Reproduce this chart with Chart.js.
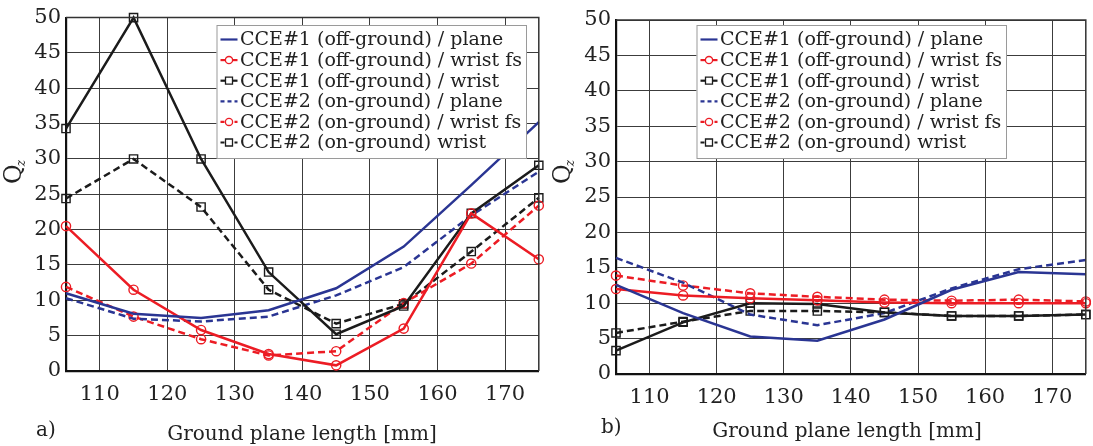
<!DOCTYPE html>
<html lang="en">

<head>
    <meta charset="UTF-8">
    <title>Qz vs ground plane length</title>
    <style>
        body { margin: 0; background: #fff; }
        .panel { position: absolute; top: 0; }
    </style>
</head>

<body>
    <div class="panel" style="left:0px;"><canvas id="chartA" width="546" height="446"></canvas></div>
    <div class="panel" style="left:546px;"><canvas id="chartB" width="547" height="446"></canvas></div>

    <script src="https://cdn.jsdelivr.net/npm/chart.js@4.4.1/dist/chart.umd.min.js"></script>
    <script>
        // ground plane length [mm]
        const lengths = [105, 115, 125, 135, 145, 155, 165, 175];
        const xTicks = [110, 120, 130, 140, 150, 160, 170];

        const seriesNames = [
            'CCE#1 (off-ground) / plane',
            'CCE#1 (off-ground) / wrist fs',
            'CCE#1 (off-ground) / wrist',
            'CCE#2 (on-ground) / plane',
            'CCE#2 (on-ground) / wrist fs',
            'CCE#2 (on-ground) wrist'
        ];

        // panel a)
        const a_cce1Plane = [11.0, 8.1, 7.5, 8.6, 11.7, 17.6, 26.3, 35.2];
        const a_cce1WristFs = [20.5, 11.5, 5.8, 2.4, 0.8, 6.0, 22.3, 15.8];
        const a_cce1Wrist = [34.3, 50.0, 30.0, 14.0, 5.2, 9.2, 22.3, 29.1];
        const a_cce2Plane = [10.3, 7.4, 7.0, 7.7, 10.7, 14.7, 22.0, 28.2];
        const a_cce2WristFs = [11.9, 7.7, 4.5, 2.2, 2.8, 9.6, 15.2, 23.4];
        const a_cce2Wrist = [24.4, 30.0, 23.2, 11.5, 6.7, 9.5, 16.9, 24.5];

        // panel b)
        const b_cce1Plane = [12.6, 8.6, 5.3, 4.7, 7.7, 11.9, 14.4, 14.1];
        const b_cce1WristFs = [12.0, 11.1, 10.7, 10.4, 10.1, 10.0, 10.0, 10.0];
        const b_cce1Wrist = [3.3, 7.3, 10.0, 9.9, 8.7, 8.2, 8.2, 8.4];
        const b_cce2Plane = [16.4, 12.9, 8.4, 6.9, 8.6, 12.1, 14.8, 16.1];
        const b_cce2WristFs = [13.9, 12.5, 11.4, 10.9, 10.5, 10.35, 10.5, 10.25];
        const b_cce2Wrist = [5.8, 7.4, 8.9, 8.9, 8.7, 8.2, 8.2, 8.4];

        const BLUE = '#2a3593';
        const RED = '#ec1c24';
        const BLACK = '#1b1b1b';
        const SERIF = '"DejaVu Serif", serif';

        const styles = [
            { color: BLUE, dash: [], marker: false },
            { color: RED, dash: [], marker: 'circle' },
            { color: BLACK, dash: [], marker: 'rect' },
            { color: BLUE, dash: [7, 4], marker: false },
            { color: RED, dash: [7, 4], marker: 'circle' },
            { color: BLACK, dash: [7, 4], marker: 'rect' }
        ];

        function makeDatasets(lists) {
            return lists.map((vals, i) => {
                const st = styles[i];
                return {
                    label: seriesNames[i],
                    data: vals.map((v, k) => ({ x: lengths[k], y: v })),
                    borderColor: st.color,
                    borderWidth: 2.5,
                    borderDash: st.dash,
                    backgroundColor: 'rgba(0,0,0,0)',
                    pointStyle: st.marker || 'circle',
                    pointRadius: st.marker ? (st.marker === 'rect' ? 5.8 : 4.6) : 0,
                    pointBorderColor: st.color,
                    pointBorderWidth: 1.4,
                    pointBackgroundColor: 'rgba(0,0,0,0)',
                    tension: 0,
                    clip: false
                };
            });
        }

        // titles, frame and boxed legend drawn inside the plot
        const decor = {
            id: 'decor',
            afterDraw(chart, args, opts) {
                const ctx = chart.ctx;
                const a = chart.chartArea;
                ctx.save();
                // top / right frame
                ctx.strokeStyle = '#333';
                ctx.lineWidth = 1.5;
                ctx.beginPath();
                ctx.moveTo(a.left, a.top);
                ctx.lineTo(a.right, a.top);
                ctx.lineTo(a.right, a.bottom);
                ctx.stroke();

                ctx.fillStyle = '#222';
                // x title + panel label
                ctx.font = '20px ' + SERIF;
                ctx.textBaseline = 'alphabetic';
                ctx.textAlign = 'center';
                ctx.fillText('Ground plane length [mm]', opts.titleX, opts.titleY);
                ctx.textAlign = 'left';
                ctx.fillText(opts.panel, opts.panelX, opts.panelY);

                // y title Q with subscript z
                ctx.translate(opts.qX, opts.qY);
                ctx.rotate(-Math.PI / 2);
                ctx.font = '24px ' + SERIF;
                ctx.textAlign = 'left';
                ctx.textBaseline = 'middle';
                ctx.fillText('Q', -12, 0);
                const qw = ctx.measureText('Q').width;
                ctx.font = 'italic 12px ' + SERIF;
                ctx.fillText('z', -12 + qw - 2, 7);
                ctx.restore();

                // legend
                const lg = opts.legend;
                ctx.save();
                ctx.fillStyle = '#fff';
                ctx.fillRect(lg.x, lg.y, lg.w, lg.h);
                ctx.strokeStyle = '#9a9a9a';
                ctx.lineWidth = 1;
                ctx.strokeRect(lg.x + 0.5, lg.y + 0.5, lg.w, lg.h);
                ctx.font = '19px ' + SERIF;
                ctx.textAlign = 'left';
                ctx.textBaseline = 'middle';
                chart.data.datasets.forEach((ds, i) => {
                    const cy = lg.y + 14.5 + i * 20.6;
                    const x0 = lg.x + 4, x1 = lg.x + 21;
                    ctx.strokeStyle = ds.borderColor;
                    ctx.lineWidth = 2.2;
                    ctx.setLineDash(ds.borderDash.length ? [4, 3] : []);
                    ctx.beginPath();
                    ctx.moveTo(x0, cy);
                    ctx.lineTo(x1, cy);
                    ctx.stroke();
                    ctx.setLineDash([]);
                    if (ds.pointRadius > 0) {
                        ctx.fillStyle = '#fff';
                        ctx.lineWidth = 1.3;
                        const mx = (x0 + x1) / 2;
                        ctx.beginPath();
                        if (ds.pointStyle === 'rect') {
                            ctx.rect(mx - 3.5, cy - 3.5, 7, 7);
                        } else {
                            ctx.arc(mx, cy, 3.6, 0, Math.PI * 2);
                        }
                        ctx.fill();
                        ctx.stroke();
                    }
                    ctx.fillStyle = '#222';
                    ctx.fillText(ds.label, lg.x + 23.5, cy + 1);
                });
                ctx.restore();
            }
        };

        function makeChart(id, lists, geo) {
            const ctx = document.getElementById(id);
            const config = {
                type: 'line',
                data: { datasets: makeDatasets(lists) },
                options: {
                    responsive: false,
                    animation: false,
                    layout: {
                        padding: { left: geo.padLeft, right: geo.padRight, top: geo.padTop, bottom: 0 }
                    },
                    plugins: {
                        legend: { display: false },
                        tooltip: { enabled: false },
                        decor: geo.decor
                    },
                    scales: {
                        x: {
                            type: 'linear',
                            min: 105,
                            max: 175,
                            afterBuildTicks: s => { s.ticks = xTicks.map(v => ({ value: v })); },
                            afterFit: s => { s.height = geo.xHeight; },
                            ticks: {
                                color: '#222',
                                font: { family: SERIF, size: 21 },
                                padding: 11,
                                maxRotation: 0
                            },
                            grid: { color: '#3c3c3c', lineWidth: 1, drawTicks: false },
                            border: { display: true, color: '#111', width: 2.2 }
                        },
                        y: {
                            min: 0,
                            max: 50,
                            afterFit: s => { s.width = geo.yWidth; },
                            ticks: {
                                stepSize: 5,
                                color: '#222',
                                font: { family: SERIF, size: 21 },
                                padding: 5
                            },
                            grid: { color: '#3c3c3c', lineWidth: 1, drawTicks: false },
                            border: { display: true, color: '#111', width: 2.2 }
                        }
                    }
                },
                plugins: [decor]
            };
            return new Chart(ctx, config);
        }

        var chartA = makeChart('chartA',
            [a_cce1Plane, a_cce1WristFs, a_cce1Wrist, a_cce2Plane, a_cce2WristFs, a_cce2Wrist],
            {
                padLeft: 6, padRight: 3, padTop: 17, xHeight: 75, yWidth: 60,
                decor: {
                    titleX: 302, titleY: 440, panel: 'a)', panelX: 36, panelY: 436,
                    qX: 15, qY: 172,
                    legend: { x: 216.5, y: 25, w: 309.5, h: 133 }
                }
            });

        var chartB = makeChart('chartB',
            [b_cce1Plane, b_cce1WristFs, b_cce1Wrist, b_cce2Plane, b_cce2WristFs, b_cce2Wrist],
            {
                padLeft: 10, padRight: 1, padTop: 20, xHeight: 72, yWidth: 60,
                decor: {
                    titleX: 301, titleY: 437, panel: 'b)', panelX: 55, panelY: 433,
                    qX: 18, qY: 172,
                    legend: { x: 150.5, y: 25, w: 309.5, h: 133 }
                }
            });
    </script>

</body>

</html>
